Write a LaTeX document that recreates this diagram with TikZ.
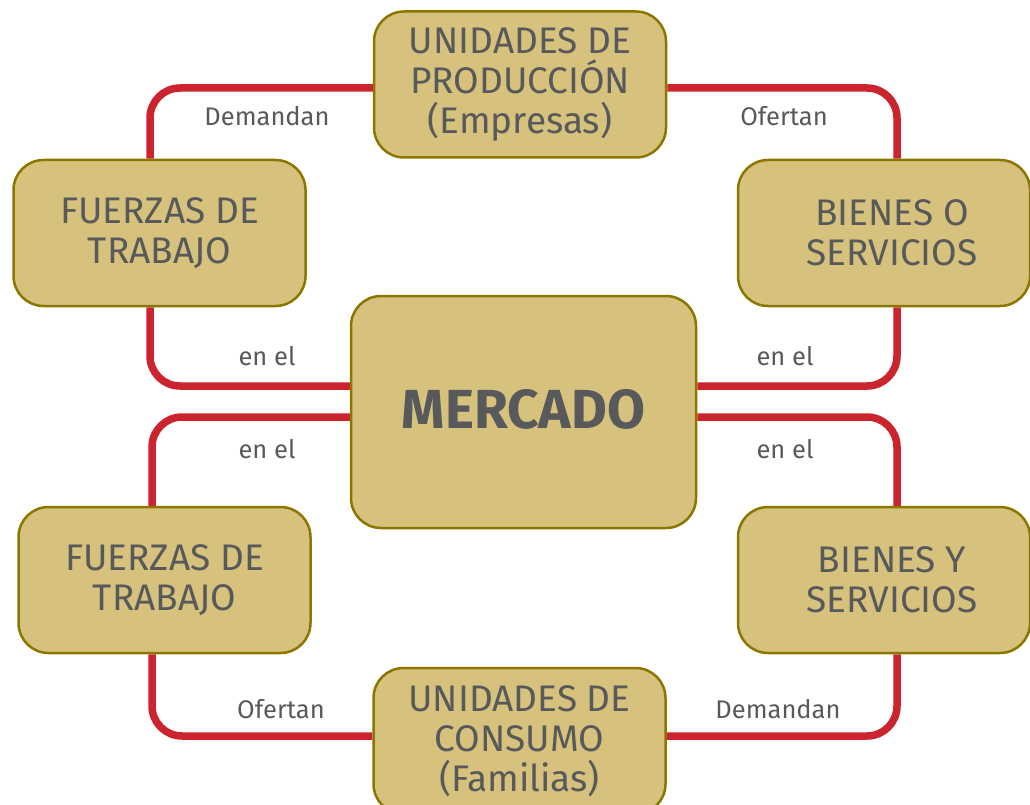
\documentclass[tikz,border=0pt]{standalone}
\usepackage{fontspec}
\setmainfont{Fira Sans}
\usetikzlibrary{positioning, backgrounds, calc}
\definecolor{boxgold}{RGB}{214, 194, 124}
\definecolor{boxolive}{RGB}{140, 118, 0}
\definecolor{linkred}{RGB}{204, 36, 46}
\definecolor{textgray}{RGB}{88, 89, 91}

\tikzset{
  agent/.style={draw=boxolive, fill=boxgold, line width=2.5pt, rounded corners=30pt,
    minimum width=292pt, minimum height=146pt, align=center, inner sep=0pt,
    text=textgray, font=\fontsize{37}{40}\selectfont},
  market/.style={agent, minimum width=345pt, minimum height=232pt,
    font=\fontsize{55}{60}\selectfont\bfseries},
  link/.style={draw=linkred, line width=7.5pt, rounded corners=30pt},
  verb/.style={text=textgray, font=\fontsize{25.5}{28}\selectfont}
}

\begin{document}
\begin{tikzpicture}[x=1pt, y=-1pt]

  % marco de la figura (1030 x 805)
  \useasboundingbox (0,0) rectangle (1030,805);
  \clip (0,0) rectangle (1030,805);

  % nodo central
  \node[market] (merc) at (523.5,412) {\raisebox{7pt}{MERCADO}};

  % agentes y flujos
  \node[agent] (prod) at (520,84.5) {UNIDADES DE\\PRODUCCIÓN\\(Empresas)};
  \node[agent] (fa) at (159.5,233) {FUERZAS DE\\TRABAJO};
  \node[agent] (ba) at (884,233) {\hspace*{16pt}BIENES O\\\hspace*{16pt}SERVICIOS};
  \node[agent] (fb) at (164.5,580) {FUERZAS DE\\TRABAJO};
  \node[agent] (bb) at (884,580) {\hspace*{16pt}BIENES Y\\\hspace*{16pt}SERVICIOS};
  \node[agent] (cons) at (519.5,741) {UNIDADES DE\\CONSUMO\\(Familias)};

  % conectores rojos (detrás de las cajas)
  \begin{scope}[on background layer]
    \draw[link] ([yshift=-3.5pt]prod.west) -| ([xshift=-9.5pt]fa.north);
    \draw[link] ([yshift=-3.5pt]prod.east) -| ([xshift=13pt]ba.north);
    \draw[link] ([xshift=-9.5pt]fa.south) |- ([yshift=26pt]merc.west);
    \draw[link] ([xshift=13pt]ba.south) |- ([yshift=26pt]merc.east);
    \draw[link] ([yshift=-5pt]merc.west) -| ([xshift=-12.5pt]fb.north);
    \draw[link] ([yshift=-5pt]merc.east) -| ([xshift=13pt]bb.north);
    \draw[link] ([xshift=-12.5pt]fb.south) |- ([yshift=5pt]cons.west);
    \draw[link] ([xshift=13pt]bb.south) |- ([yshift=5pt]cons.east);
  \end{scope}

  % rótulos de los conectores
  \node[verb] (dem1) at (267,116) {Demandan};
  \node[verb] (ofe1) at (784,116) {Ofertan};
  \node[verb] (en1) at (267,356) {en el};
  \node[verb] (en2) at (785,356) {en el};
  \node[verb] (en3) at (267,449) {en el};
  \node[verb] (en4) at (785,449) {en el};
  \node[verb] (ofe2) at (281,709) {Ofertan};
  \node[verb] (dem2) at (778,709) {Demandan};

\end{tikzpicture}
\end{document}
